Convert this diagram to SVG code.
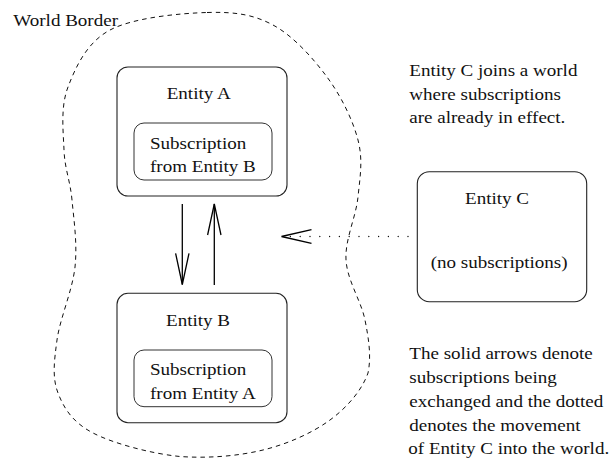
<svg xmlns="http://www.w3.org/2000/svg" width="615" height="458" viewBox="0 0 615 458">
  <style>
    text { font-family: 'Liberation Serif', 'Times New Roman', 'DejaVu Serif', serif; font-size: 16px; fill: #111; }
    .box { fill: none; stroke: #222; stroke-width: 1.1; }
    .inner { fill: none; stroke: #333; stroke-width: 1; }
    .solid { fill: none; stroke: #000; stroke-width: 1.3; }
    .dotted { fill: none; stroke: #111; stroke-width: 1.4; stroke-linecap: round; stroke-dasharray: 0 9.8; }
    .border { fill: none; stroke: #111; stroke-width: 1; stroke-dasharray: 4.5 4; }
  </style>

  <!-- dashed world boundary -->
  <g id="world-border">
    <path class="border" d="M207,12.5 C234.2,11.7 253,14.25 273,25 C293,35.75 312.8,57.8 327,77 C341.2,96.2 352.8,120 358,140 C363.2,160 360,177 358,197 C356,217 344.8,239.5 346,260 C347.2,280.5 361.3,301.2 365,320 C368.7,338.8 371.5,356.3 368,373 C362.2,389.7 347.5,407.2 330,420 C312.5,432.8 288,443.9 263,450 C238,456.1 208.3,458.5 180,456.5 C151.7,453.7 113.3,443.6 93,433 C72.7,422.4 64,408.5 58,393 C52,377.5 54.2,361 57,340 C59.8,319 72.5,290.3 75,267 C77.5,243.7 73.8,219.5 72,200 C70.2,180.5 64.7,168.8 64,150 C63.3,131.2 60.3,107 68,87 C75.7,67 86.8,42.4 110,30 C133.2,17.6 179.8,13.3 207,12.5 Z"/>
    <text transform="translate(13.3,26) scale(1.19,1)">World Border</text>
  </g>

  <!-- Entity A with its subscription -->
  <g id="entity-a">
    <rect class="box" x="117" y="67" width="170" height="129" rx="11"/>
    <text transform="translate(166.7,99) scale(1.19,1)">Entity A</text>
    <rect class="inner" x="134" y="123" width="138" height="57" rx="10"/>
    <text transform="translate(150,149) scale(1.19,1)">Subscription</text>
    <text transform="translate(150,171.7) scale(1.19,1)">from Entity B</text>
  </g>

  <!-- Entity B with its subscription -->
  <g id="entity-b">
    <rect class="box" x="117" y="293.3" width="170" height="129.4" rx="11"/>
    <text transform="translate(166,326) scale(1.19,1)">Entity B</text>
    <rect class="inner" x="134" y="350" width="138" height="56.7" rx="10"/>
    <text transform="translate(150,375) scale(1.19,1)">Subscription</text>
    <text transform="translate(150,398.5) scale(1.19,1)">from Entity A</text>
  </g>

  <!-- Entity C, outside the world -->
  <g id="entity-c">
    <rect class="box" x="417.3" y="171.7" width="169.4" height="130" rx="12"/>
    <text transform="translate(465,204) scale(1.19,1)">Entity C</text>
    <text transform="translate(430.7,268) scale(1.19,1)">(no subscriptions)</text>
  </g>

  <!-- connectors -->
  <g id="connectors">
    <!-- A to B -->
    <line class="solid" x1="182.3" y1="204" x2="182.3" y2="284.5"/>
    <polyline class="solid" points="175.6,253.3 182.3,284.5 189,253.3"/>
    <!-- B to A -->
    <line class="solid" x1="214.3" y1="285" x2="214.3" y2="204"/>
    <polyline class="solid" points="207.6,235 214.3,204 221,235"/>
    <!-- C moving into the world -->
    <line class="dotted" x1="408" y1="236.5" x2="282" y2="236.5"/>
    <polyline class="solid" points="311.5,229.6 281.5,236.5 311.5,243.3"/>
  </g>

  <!-- notes -->
  <g id="note-top">
    <text transform="translate(409.3,76) scale(1.19,1)">Entity C joins a world</text>
    <text transform="translate(409.3,99.5) scale(1.19,1)">where subscriptions</text>
    <text transform="translate(409.3,123) scale(1.19,1)">are already in effect.</text>
  </g>
  <g id="note-bottom">
    <text transform="translate(409.3,358.5) scale(1.19,1)">The solid arrows denote</text>
    <text transform="translate(409.3,382.5) scale(1.19,1)">subscriptions being</text>
    <text transform="translate(409.3,406.5) scale(1.19,1)">exchanged and the dotted</text>
    <text transform="translate(409.3,430.5) scale(1.19,1)">denotes the movement</text>
    <text transform="translate(408.3,454) scale(1.19,1)">of Entity C into the world.</text>
  </g>
</svg>
